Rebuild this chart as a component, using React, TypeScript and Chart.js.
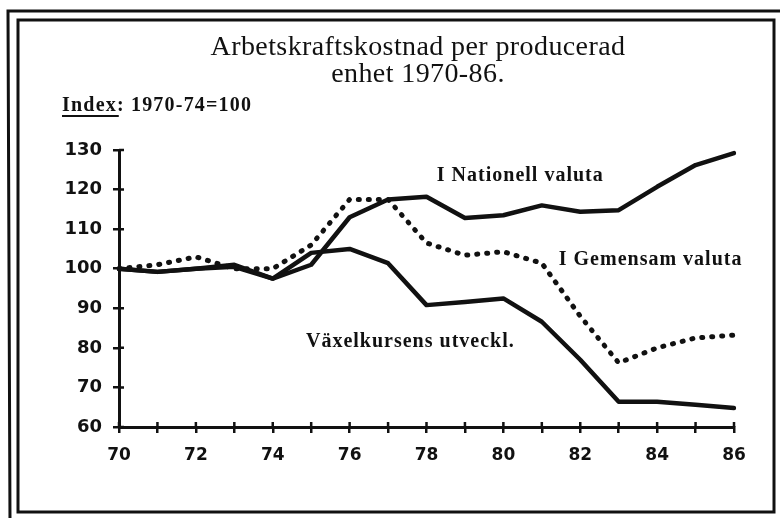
import { useEffect, useRef } from 'react';
import { Chart, registerables } from 'chart.js';

Chart.register(...registerables);

const years = ['70', '71', '72', '73', '74', '75', '76', '77', '78', '79', '80', '81', '82', '83', '84', '85', '86'];
const nationell = [100, 99.2, 100, 101, 97.5, 101, 113, 117.5, 118.2, 112.8, 113.5, 116, 114.4, 114.8, 120.7, 126.2, 129.2];
const gemensam = [100, 101, 103, 100, 100, 106, 117.5, 117.5, 106.5, 103.4, 104.3, 101.4, 88, 76.2, 80, 82.5, 83.2];
const vaxelkurs = [100, 99.2, 100, 100.5, 97.5, 104, 105, 101.4, 90.8, 91.6, 92.5, 86.6, 77, 66.4, 66.4, 65.6, 64.8];

const titleLines = ['Arbetskraftskostnad per producerad', 'enhet 1970-86.'];
const indexLabel = 'Index:';
const indexText = ' 1970-74=100';
// annotation: [text, x position (year index), y value]
const annotations: [string, number, number][] = [
  ['I Nationell valuta', 10.44, 123.4],
  ['I Gemensam valuta', 13.83, 102.2],
  ['Växelkursens utveckl.', 7.58, 81.5],
];

const W = 780;
const H = 518;

export default function App() {
  const ref = useRef<HTMLCanvasElement>(null);

  useEffect(() => {
    const canvas = ref.current;
    if (!canvas) return;

    const decor = {
      id: 'decor',
      beforeDraw(c: any) {
        const ctx = c.ctx;
        ctx.save();
        ctx.fillStyle = '#fff';
        ctx.fillRect(0, 0, W, H);
        ctx.restore();
      },
      afterDraw(c: any) {
        const ctx = c.ctx;
        const sx = c.scales.x;
        const sy = c.scales.y;
        ctx.save();
        // frames
        ctx.strokeStyle = '#111';
        ctx.lineWidth = 3;
        ctx.beginPath();
        ctx.moveTo(W + 5, 11);
        ctx.lineTo(8, 11);
        ctx.lineTo(10, H + 5);
        ctx.stroke();
        ctx.strokeRect(18, 20, 756, 492);

        // inner tick marks (crosses)
        ctx.lineWidth = 2.5;
        ctx.beginPath();
        sx.ticks.forEach((_t: any, i: number) => {
          const px = sx.getPixelForTick(i);
          ctx.moveTo(px, sy.bottom);
          ctx.lineTo(px, sy.bottom - 5);
        });
        sy.ticks.forEach((_t: any, i: number) => {
          const py = sy.getPixelForTick(i);
          ctx.moveTo(sx.left, py);
          ctx.lineTo(sx.left + 5, py);
        });
        ctx.stroke();

        // title
        ctx.fillStyle = '#111';
        ctx.textAlign = 'center';
        ctx.textBaseline = 'middle';
        ctx.font = '28px "Liberation Serif", serif';
        ctx.letterSpacing = '0.4px';
        ctx.fillText(titleLines[0], 418, 48);
        ctx.fillText(titleLines[1], 418, 75);

        // index text
        ctx.textAlign = 'left';
        ctx.font = 'bold 20px "Liberation Serif", serif';
        ctx.letterSpacing = '1.2px';
        const iw = ctx.measureText(indexLabel).width;
        ctx.fillText(indexLabel, 62, 106);
        ctx.fillRect(62, 115, iw - 6, 2);
        ctx.fillText(indexText, 62 + iw, 106);

        // annotations
        ctx.textAlign = 'center';
        ctx.font = 'bold 20px "Liberation Serif", serif';
        ctx.letterSpacing = '1px';
        annotations.forEach(([t, xi, yv]) => {
          ctx.fillText(t, sx.getPixelForValue(xi), sy.getPixelForValue(yv));
        });
        ctx.restore();
      },
    };

    const chart = new Chart(canvas, {
      type: 'line',
      data: {
        labels: years,
        datasets: [
          {
            label: 'I Nationell valuta',
            data: nationell,
            borderColor: '#111',
            borderWidth: 4.5,
            pointRadius: 0,
            tension: 0,
            borderJoinStyle: 'round',
            borderCapStyle: 'round',
          },
          {
            label: 'I Gemensam valuta',
            data: gemensam,
            borderColor: '#111',
            borderWidth: 5,
            borderDash: [1, 9],
            borderCapStyle: 'round',
            pointRadius: 0,
            tension: 0,
          },
          {
            label: 'Växelkursens utveckl.',
            data: vaxelkurs,
            borderColor: '#111',
            borderWidth: 4.5,
            pointRadius: 0,
            tension: 0,
            borderJoinStyle: 'round',
            borderCapStyle: 'round',
          },
        ],
      },
      options: {
        responsive: false,
        animation: false,
        layout: { padding: { top: 150, left: 0, right: 46, bottom: 0 } },
        plugins: {
          legend: { display: false },
          tooltip: { enabled: false },
          title: { display: false },
        },
        scales: {
          x: {
            type: 'category',
            offset: false,
            afterFit(s: any) {
              s.height = 91;
            },
            border: { display: true, color: '#111', width: 3 },
            grid: {
              display: true,
              drawOnChartArea: false,
              drawTicks: true,
              tickLength: 6,
              color: '#111',
              lineWidth: 2.5,
            },
            ticks: {
              autoSkip: false,
              maxRotation: 0,
              padding: 12,
              color: '#111',
              font: { family: '"DejaVu Sans", sans-serif', size: 17, weight: 'bold' },
              callback: (_v: any, i: number) => (i % 2 === 0 ? years[i] : ''),
            },
          },
          y: {
            min: 60,
            max: 130,
            afterFit(s: any) {
              s.width = 119;
            },
            border: { display: true, color: '#111', width: 3 },
            grid: {
              display: true,
              drawOnChartArea: false,
              drawTicks: true,
              tickLength: 6,
              color: '#111',
              lineWidth: 2.5,
            },
            ticks: {
              stepSize: 10,
              padding: 11,
              color: '#111',
              font: { family: '"DejaVu Sans", sans-serif', size: 18, weight: 'bold' },
            },
          },
        },
      },
      plugins: [decor],
    } as any);

    return () => chart.destroy();
  }, []);

  return (
    <div style={{ position: 'absolute', left: 0, top: 0, width: W, height: H, background: '#fff' }}>
      <canvas ref={ref} width={W} height={H} style={{ display: 'block', width: W, height: H }} />
    </div>
  );
}
